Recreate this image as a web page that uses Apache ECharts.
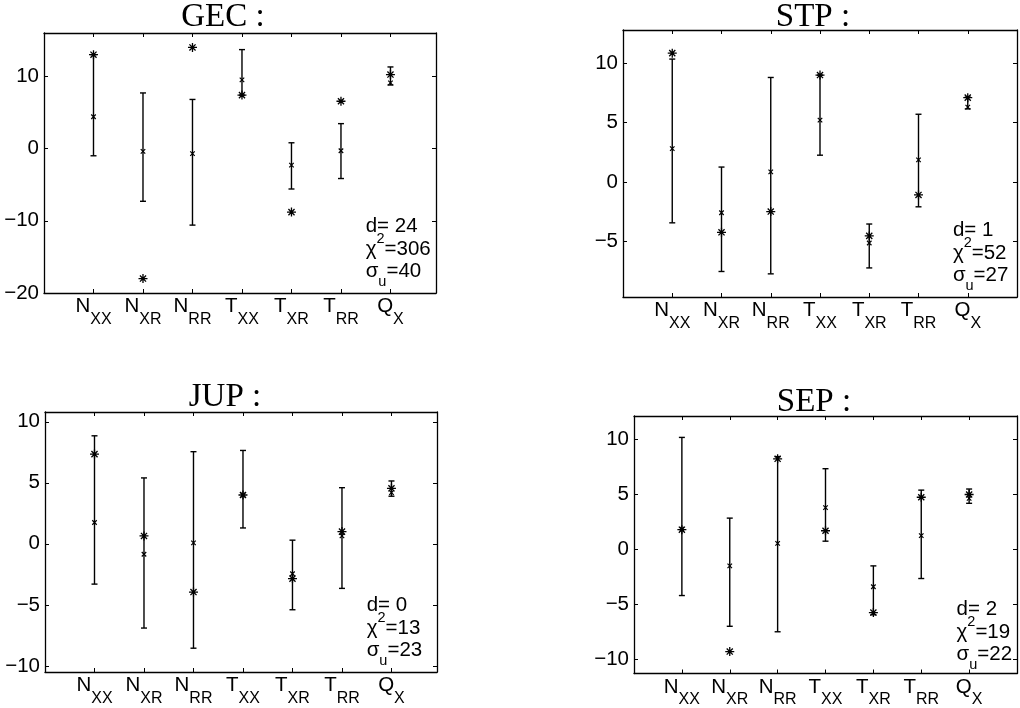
<!DOCTYPE html>
<html><head><meta charset="utf-8">
<script src="https://cdn.jsdelivr.net/npm/echarts@6/dist/echarts.min.js"></script>
<style>html,body{margin:0;padding:0;background:#fff}#c{width:1020px;height:708px}</style>
</head><body><div id="c"></div>
<script>
// ---------- data ----------
const categories = ['N_XX','N_XR','N_RR','T_XX','T_XR','T_RR','Q_X'];
const catMain = ['N','N','N','T','T','T','Q'];
const catSub = ['XX','XR','RR','XX','XR','RR','X'];
const panelNames = ['GEC','STP','JUP','SEP'];

// GEC
const gecLow  = [-1.0, -7.3, -10.6, 7.4, -5.6, -4.15, 8.8];
const gecHigh = [13.0, 7.7, 6.8, 13.7, 0.8, 3.45, 11.3];
const gecMid  = [4.4, -0.4, -0.7, 9.5, -2.3, -0.3, 9.1];
const gecStar = [13.0, -18.0, 14.0, 7.4, -8.8, 6.55, 10.25];
// STP
const stpLow  = [-3.45, -7.55, -7.75, 2.25, -7.25, -2.1, 6.15];
const stpHigh = [10.35, 1.25, 8.8, 9.0, -3.55, 5.7, 7.15];
const stpMid  = [2.8, -2.6, 0.85, 5.2, -5.15, 1.85, 6.3];
const stpStar = [10.85, -4.25, -2.5, 9.0, -4.55, -1.1, 7.1];
// JUP
const jupLow  = [-3.3, -6.9, -8.55, 1.3, -5.4, -3.65, 3.9];
const jupHigh = [8.85, 5.4, 7.55, 7.65, 0.3, 4.6, 5.15];
const jupMid  = [1.75, -0.85, 0.08, 4.0, -2.45, 0.65, 4.2];
const jupStar = [7.35, 0.65, -3.95, 4.0, -2.85, 1.0, 4.55];
// SEP
const sepLow  = [-4.2, -7.0, -7.5, 0.75, -5.95, -2.65, 4.2];
const sepHigh = [10.2, 2.85, 8.45, 7.35, -1.5, 5.4, 5.5];
const sepMid  = [1.85, -1.5, 0.55, 3.8, -3.4, 1.25, 4.65];
const sepStar = [1.8, -9.3, 8.25, 1.7, -5.75, 4.75, 5.0];

const yMin  = [-20, -9.7, -10.5, -11.3];
const yMax  = [16, 12.8, 10.8, 12.15];
const yStep = [10, 5, 5, 5];
const xMax  = [7.92, 8, 7.92, 8];
const dText   = ['24', '1', '0', '2'];
const chiText = ['306', '52', '13', '19'];
const sigText = ['40', '27', '23', '22'];

// ---------- layout ----------
const lows  = [gecLow, stpLow, jupLow, sepLow];
const highs = [gecHigh, stpHigh, jupHigh, sepHigh];
const mids  = [gecMid, stpMid, jupMid, sepMid];
const stars = [gecStar, stpStar, jupStar, sepStar];

const grids = [
  {left: 44, top: 33, width: 392, height: 260},
  {left: 623, top: 30, width: 406, height: 267},
  {left: 45, top: 412, width: 392, height: 260},
  {left: 634, top: 416, width: 397, height: 260}
];
const titleX = [223, 813, 225, 814];
const titleBase = [26.7, 26, 406.7, 411.7];

const SANS = 'Liberation Sans';
const SERIF = 'Liberation Serif';
const BLACK = '#000';

const xPath = 'path://M0,0L10,10M0,10L10,0';
const starPath = 'path://M5,0L5,10M0,5L10,5M1.6,1.6L8.4,8.4M1.6,8.4L8.4,1.6';

function renderErr(params, api) {
  const x = api.value(0), lo = api.value(1), hi = api.value(2);
  const a = api.coord([x, lo]), b = api.coord([x, hi]);
  const w = 3;
  const st = {stroke: BLACK, lineWidth: 1.4, fill: null};
  return {type: 'group', children: [
    {type: 'line', shape: {x1: a[0], y1: a[1], x2: b[0], y2: b[1]}, style: st},
    {type: 'line', shape: {x1: a[0] - w, y1: a[1], x2: a[0] + w, y2: a[1]}, style: st},
    {type: 'line', shape: {x1: b[0] - w, y1: b[1], x2: b[0] + w, y2: b[1]}, style: st}
  ]};
}

const minus = v => String(v).replace('-', '\u2212');

const option = {
  animation: false,
  backgroundColor: '#fff',
  grid: grids.map(g => Object.assign({containLabel: false}, g)),
  xAxis: [], yAxis: [], series: [], graphic: []
};

for (let i = 0; i < 4; i++) {
  const axisLine = {show: true, onZero: false, lineStyle: {color: BLACK, width: 1.3}};
  const tick = {show: true, inside: true, length: 4, lineStyle: {color: BLACK, width: 1}};
  option.xAxis.push({
    type: 'value', gridIndex: i, position: 'bottom', min: 0, max: xMax[i], interval: 1,
    axisLine, axisTick: tick, splitLine: {show: false},
    axisLabel: {
      show: true, margin: 3, color: BLACK, showMinLabel: true, showMaxLabel: true,
      formatter: v => {
        const k = Math.round(v) - 1;
        if (Math.abs(v - Math.round(v)) > 1e-6 || k < 0 || k >= categories.length) return '';
        return '{n|' + catMain[k] + '}{s|' + catSub[k] + '}';
      },
      rich: {
        n: {fontFamily: SANS, fontSize: 20.5, color: BLACK, padding: [0, 0, 13, 0]},
        s: {fontFamily: SANS, fontSize: 16, color: BLACK, padding: [13, 0, 0, 0]}
      }
    }
  });
  option.xAxis.push({
    type: 'value', gridIndex: i, position: 'top', min: 0, max: xMax[i], interval: 1,
    axisLine, axisTick: tick, splitLine: {show: false}, axisLabel: {show: false}
  });
  const yCommon = {
    type: 'value', gridIndex: i, min: yMin[i], max: yMax[i],
    minInterval: yStep[i], maxInterval: yStep[i],
    axisLine, axisTick: tick, splitLine: {show: false}
  };
  option.yAxis.push(Object.assign({}, yCommon, {
    position: 'left',
    axisLabel: {show: true, margin: 5, color: BLACK, fontFamily: SANS, fontSize: 20.5,
      showMinLabel: yMin[i] % yStep[i] === 0, showMaxLabel: yMax[i] % yStep[i] === 0,
      formatter: minus}
  }));
  option.yAxis.push(Object.assign({}, yCommon, {position: 'right', axisLabel: {show: false}}));

  const xi = 2 * i, yi = 2 * i;
  option.series.push({
    type: 'custom', xAxisIndex: xi, yAxisIndex: yi, renderItem: renderErr,
    encode: {x: 0, y: [1, 2]}, silent: true, clip: false,
    data: lows[i].map((lo, k) => [k + 1, lo, highs[i][k]])
  });
  option.series.push({
    type: 'scatter', xAxisIndex: xi, yAxisIndex: yi, symbol: xPath, symbolSize: 4.5,
    itemStyle: {color: 'none', borderColor: BLACK, borderWidth: 1.2, opacity: 1},
    silent: true, z: 3,
    data: mids[i].map((v, k) => [k + 1, v])
  });
  option.series.push({
    type: 'scatter', xAxisIndex: xi, yAxisIndex: yi, symbol: starPath, symbolSize: 9,
    itemStyle: {color: 'none', borderColor: BLACK, borderWidth: 1.3, opacity: 1},
    silent: true, z: 4,
    data: stars[i].map((v, k) => [k + 1, v])
  });

  // title
  option.graphic.push({
    type: 'text', x: titleX[i], y: titleBase[i] - 9,
    style: {text: panelNames[i] + ' :', font: '33px "' + SERIF + '"', fill: BLACK,
      align: 'center', verticalAlign: 'middle'}
  });
  // annotation
  const g = grids[i];
  const unit = g.width / xMax[i];
  const ax = g.left + 6.5 * unit;
  const bottom = g.top + g.height;
  const richA = {
    a: {fontFamily: SANS, fontSize: 20.5, fill: BLACK},
    p: {fontFamily: SANS, fontSize: 14.5, fill: BLACK, padding: [0, 0, 21, 0]},
    u: {fontFamily: SANS, fontSize: 14.5, fill: BLACK, padding: [21, 0, 0, 0]}
  };
  const lines = [
    '{a|d= ' + dText[i] + '}',
    '{a|\u03c7}{p|2}{a|=' + chiText[i] + '}',
    '{a|\u03c3}{u|u}{a|=' + sigText[i] + '}'
  ];
  const offs = [60, 37, 15];
  lines.forEach((t, j) => {
    option.graphic.push({
      type: 'text', x: ax, y: bottom - offs[j] - 7, z: 10,
      style: {text: t, rich: richA, fill: BLACK, align: 'left', verticalAlign: 'middle',
        font: '20.5px "' + SANS + '"'}
    });
  });
}

const chart = echarts.init(document.getElementById('c'), null, {renderer: 'canvas'});
chart.setOption(option);
</script>
</body></html>
